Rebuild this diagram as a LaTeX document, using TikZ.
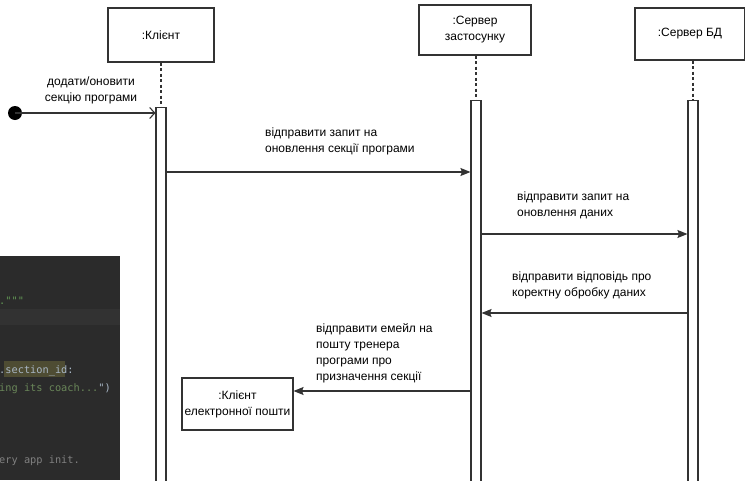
\documentclass[tikz,border=0pt]{standalone}
\usepackage{fontspec}
\setmainfont{Liberation Sans}
\newfontfamily\codefont{DejaVu Sans Mono}
\usetikzlibrary{arrows.meta}
\definecolor{edbg}{HTML}{2B2B2B}
\definecolor{edline}{HTML}{323232}
\definecolor{edstr}{HTML}{6A8759}
\definecolor{eddoc}{HTML}{629755}
\definecolor{edtxt}{HTML}{A9B7C6}
\definecolor{edcom}{HTML}{808080}
\definecolor{edhl}{HTML}{4E4C33}
\definecolor{linec}{HTML}{333333}
\begin{document}
\begin{tikzpicture}[x=1pt,y=-1pt,
  every node/.style={font=\fontsize{12}{16}\selectfont},
  objbox/.style={draw=linec,line width=1.1pt,fill=white,inner sep=0,align=center},
  actbar/.style={draw=linec,line width=1.1pt,fill=white,inner sep=0,minimum width=10pt,anchor=north},
  lifeline/.style={draw=linec,line width=1.1pt,dash pattern=on 3pt off 2.5pt},
  msg/.style={draw=linec,line width=1.1pt,-{Stealth[length=10pt,width=8pt,inset=1.5pt]}},
  startmsg/.style={draw=linec,line width=1.1pt,-{Straight Barb[length=5pt,width=11pt]}},
  lbl/.style={align=left,anchor=west,inner sep=0},
  code/.style={font=\codefont\fontsize{10.3}{12}\selectfont,anchor=base west,inner sep=0}]
\useasboundingbox (0,0) rectangle (745,480);
\fill[white] (0,0) rectangle (745,480);

% editor fragment
\begin{scope}
\clip (0,256) rectangle (120,480);
\fill[edbg] (0,256) rectangle (120,480);
\fill[edline] (0,309) rectangle (120,325);
\fill[edhl] (4,361) rectangle (65,377);
\node[code,text=eddoc] (c1) at (-1,304) {.\char`\"\char`\"\char`\"};
\node[code,text=edtxt] (c2) at (-1,373) {.section\_id:};
\node[code,text=edstr] (c3) at (-1,391) {ing its coach...\textcolor{edtxt}{\char`\")}};
\node[code,text=edcom] (c4) at (-1,463) {ery app init.};
\end{scope}

% objects
\node[objbox,minimum width=106pt,minimum height=54pt] (client) at (161,35) {:Клієнт};
\node[objbox,minimum width=112pt,minimum height=50pt] (app) at (475,30) {:Сервер\\застосунку};
\node[objbox,minimum width=110pt,minimum height=52pt] (db) at (690,34) {:Сервер БД};

% activation bars
\node[actbar,minimum height=375pt] (a1) at (161,107) {};
\node[actbar,minimum height=382pt] (a2) at (476,100) {};
\node[actbar,minimum height=382pt] (a3) at (693,100) {};

% lifelines
\draw[lifeline] (a1.north |- client.south) -- (a1.north);
\draw[lifeline] (a2.north |- app.south) -- (a2.north);
\draw[lifeline] (a3.north |- db.south) -- (a3.north);

% start
\fill[black] (15,113) circle (7pt);
\coordinate (start) at (15,113);
\draw[startmsg] (start) -- (a1.west |- start);
\node[align=center,inner sep=0] (l0) at (91,90) {додати/оновити\\секцію програми};

% messages
\coordinate (m1) at (0,172);
\draw[msg] (a1.east |- m1) -- (a2.west |- m1);
\node[lbl] (l1) at (265,141) {відправити запит на\\оновлення секції програми};

\coordinate (m2) at (0,234);
\draw[msg] (a2.east |- m2) -- (a3.west |- m2);
\node[lbl] (l2) at (517,205) {відправити запит на\\оновлення даних};

\coordinate (m3) at (0,313);
\draw[msg] (a3.west |- m3) -- (a2.east |- m3);
\node[lbl] (l3) at (512,285) {відправити відповідь про\\коректну обробку даних};

% email client
\node[objbox,minimum width=111pt,minimum height=52pt] (mail) at (237.5,404) {:Клієнт\\електронної пошти};
\coordinate (m4) at (0,391);
\draw[msg] (a2.west |- m4) -- (mail.east |- m4);
\node[lbl] (l4) at (316,353) {відправити емейл на\\пошту тренера\\програми про\\призначення секції};
\end{tikzpicture}
\end{document}
